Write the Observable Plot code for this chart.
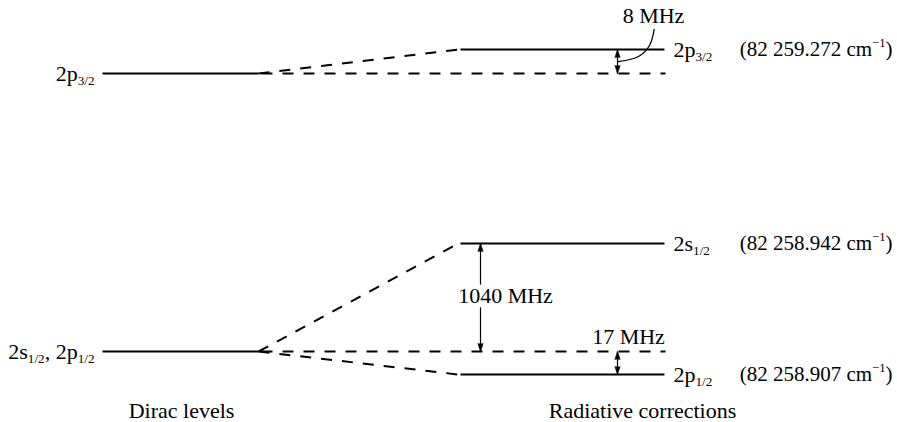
<!DOCTYPE html>
<html>
<head>
<meta charset="utf-8">
<script src="https://cdn.jsdelivr.net/npm/d3@7"></script>
<script src="https://cdn.jsdelivr.net/npm/@observablehq/plot@0.6"></script>
<style>
  html, body { margin: 0; padding: 0; background: #fff; }
  #chart { width: 897px; height: 422px; }
</style>
</head>
<body>
<div id="chart"></div>
<script>
// ---- schematic data (y = schematic energy units, x = horizontal diagram position) ----
const columns = ["Dirac levels", "Radiative corrections"];
const columnCenterX = [181, 642];
const captionY = -2.46;

const diracSpan = [102, 258];
const radSpan = [460, 664];
const refEnd = 665;

const diracLabels = ["2p_{3/2}", "2s_{1/2}, 2p_{1/2}"];
const diracEnergy = [11.58, 0];

const radLabels = ["2p_{3/2}", "2s_{1/2}", "2p_{1/2}"];
const radEnergy = [12.58, 4.5, -0.96];
const radParent = [0, 1, 1];
const wavenumbers = ["82 259.272", "82 258.942", "82 258.907"];

const shiftLabels = ["8 MHz", "1040 MHz", "17 MHz"];
const shiftFrom = [12.58, 4.5, 0];
const shiftTo = [11.58, 0, -0.96];
const shiftArrowX = [617, 480, 617];
const shiftLabelX = [653, 505, 628];
const shiftLabelY = [14.0, 2.3, 0.6];

const leaderX = [654, 649, 638, 618];
const leaderY = [13.5, 12.75, 12.29, 12.08];

// ---- derived tables ----
const dirac = diracLabels.map((label, i) => ({label, e: diracEnergy[i]}));
const rad = radLabels.map((label, i) => ({
  label, e: radEnergy[i], parentE: diracEnergy[radParent[i]],
  wn: "(" + wavenumbers[i] + " cm^{\u22121})"
}));
const shifts = shiftLabels.map((label, i) => ({
  label, x: shiftArrowX[i], y1: shiftFrom[i], y2: shiftTo[i], lx: shiftLabelX[i], ly: shiftLabelY[i]
}));
const heads = shifts.flatMap(s => [
  {x: s.x, y: s.y1, rotate: s.y1 > s.y2 ? 0 : 180},
  {x: s.x, y: s.y2, rotate: s.y2 > s.y1 ? 0 : 180}
]);
const leader = leaderX.map((x, i) => ({x, y: leaderY[i]}));
const captions = columns.map((label, i) => ({label, x: columnCenterX[i], y: captionY}));

const font = "Liberation Serif";
const fs = 22;

const chart = Plot.plot({
  width: 897,
  height: 422,
  marginTop: 0, marginRight: 0, marginBottom: 0, marginLeft: 0,
  x: {domain: [0, 897], range: [0, 897], axis: null},
  y: {domain: [(351 - 422) / 24, 351 / 24], range: [422, 0], axis: null},
  style: {fontFamily: font, fontSize: fs + "px", background: "white", color: "black"},
  marks: [
    Plot.link(rad, {x1: diracSpan[1], y1: "parentE", x2: radSpan[0] - 2, y2: "e",
      stroke: "black", strokeWidth: 2, strokeDasharray: "11,10"}),
    Plot.link(dirac, {x1: diracSpan[1] + 3, y1: "e", x2: refEnd, y2: "e",
      stroke: "black", strokeWidth: 2, strokeDasharray: "11,10"}),
    Plot.link(dirac, {x1: diracSpan[0], y1: "e", x2: diracSpan[1], y2: "e", stroke: "black", strokeWidth: 2}),
    Plot.link(rad, {x1: radSpan[0], y1: "e", x2: radSpan[1], y2: "e", stroke: "black", strokeWidth: 2}),
    Plot.link(shifts, {x1: "x", x2: "x", y1: "y1", y2: "y2", stroke: "black", strokeWidth: 1.2}),
    Plot.vector(heads, {x: "x", y: "y", rotate: "rotate", length: 8, r: 2.6, shape: "spike",
      anchor: "end", fill: "black", stroke: "black", strokeWidth: 0.6}),
    Plot.line(leader, {x: "x", y: "y", curve: "catmull-rom", stroke: "black", strokeWidth: 1.3}),
    Plot.text(dirac, {x: 94, y: "e", text: "label", textAnchor: "end", fill: "black"}),
    Plot.text(rad, {x: 673, y: "e", text: "label", textAnchor: "start", fill: "black"}),
    Plot.text(rad, {x: 892, y: "e", text: "wn", textAnchor: "end", fill: "black", fontSize: 21}),
    Plot.text(shifts, {x: "lx", y: "ly", text: "label", fill: "black", stroke: "white", strokeWidth: 12}),
    Plot.text(captions, {x: "x", y: "y", text: "label", fill: "black"})
  ]
});

// rich text: _{...} subscripts and ^{...} superscripts
d3.select(chart).selectAll("text").each(function() {
  this.style.fontFamily = font;
  const t = this.textContent;
  if (!/[_^]\{/.test(t)) return;
  const el = d3.select(this);
  el.text(null);
  const parts = t.split(/(_\{[^}]*\}|\^\{[^}]*\})/).filter(p => p !== "");
  let shift = 0;
  for (const p of parts) {
    const ts = el.append("tspan");
    let target = 0, txt = p, size = null;
    if (p.startsWith("_{")) { target = 0.22; txt = p.slice(2, -1); size = "0.6em"; }
    else if (p.startsWith("^{")) { target = -0.42; txt = p.slice(2, -1); size = "0.6em"; }
    if (size) ts.attr("font-size", size);
    const f = size ? 0.6 : 1;
    const d = (target - shift) / f;
    if (d !== 0) ts.attr("dy", d.toFixed(3) + "em");
    shift = target;
    ts.text(txt);
  }
});

document.getElementById("chart").appendChild(chart);
</script>
</body>
</html>
